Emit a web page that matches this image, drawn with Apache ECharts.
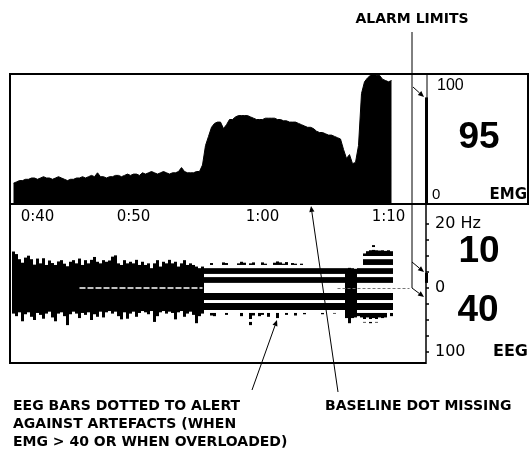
<!DOCTYPE html>
<html>
<head>
<meta charset="utf-8">
<script src="https://cdn.jsdelivr.net/npm/echarts@6/dist/echarts.min.js"></script>
<style>
  html, body { margin: 0; padding: 0; background: #fff; }
  #chart { width: 531px; height: 455px; }
</style>
</head>
<body>
<div id="chart"></div>
<script>
// EMG trend (0-100), one value per display column
const emg = [16,17,18,18,19,19, 20,20,19,20,21,20,20,19,20,21,20,19, 18,19,19,20,20,21,20,21,22,21,24,
  21,21,20,21,21,22,22,21,22,23, 22,23,23,22,24,23,24,25,24,23,24,25,24,23,24, 24,25,28,25,24,24,24,25,25, 30,
  45,52,59,62,63,63,58,61,65,65,67,68,68,68,68,67,66,65,65,
  65,66,66,66,66,65,65,64,64,63,63,63,62,61,60,59,59,58,56,55,55,54,53,53,52,51,50,
  42,35,38,31,32,45,85,94,97,99,100,99,99,96,95,94,95];

// EEG frequency (Hz, drawn above the baseline)
const eegFreq = [11.4,10.6,9.0,7.9,9.5,10.1,9.0,7.3,9.2,7.7, 9.3,7.2,8.6,7.8,7.2,8.3,8.7,7.6,6.8,8.2,
  8.7,7.7,9.2,7.2,8.7,7.7,8.8,9.7,8.2,7.7, 8.7,8.2,8.6,9.8,10.2,7.7,7.2,8.7,7.7,8.2,
  7.7,8.8,7.2,8.2,7.2,7.7,6.2,7.7,8.7,6.7, 8.2,7.7,8.8,7.7,8.2,6.7,7.7,8.7,7.2,7.7, 7.2,6.7,6.2,6.7,
  6.8,7.0,7.8,6.6,6.8,6.9,8.0,7.8,6.7,6.9, 7.0,7.7,8.2,7.9,6.8,7.7,8.0,6.9,7.0,8.0,
  7.6,6.8,6.9,7.9,8.3,8.0,7.6,8.1,7.0,7.8, 7.6,6.9,7.6,
  6.6,6.8,6.5,6.9,6.7,6.6,6.8,6.5,6.7,6.9,6.6,6.7,6.8,6.5,
  6.2,6.3,6.2,6.0,
  6.6,7.0,10.8,11.5,11.8,13.4,11.8,11.7,11.8,11.6,11.8,11.5];

// EEG amplitude (drawn below the baseline, 0-100)
const eegAmp = [40,44,38,52,41,38,45,50,39,42, 48,40,37,46,52,40,38,44,58,41,
  37,40,47,39,42,38,50,41,45,37, 46,38,36,40,37,44,49,38,48,40,
  37,45,39,36,38,41,36,53,44,38, 36,40,37,39,49,38,36,45,40,37, 42,55,44,40,
  38,37,43,44,36,37,36,42,37,36, 38,36,44,37,36,58,43,37,44,42,
  36,45,37,36,47,36,37,42,36,37, 43,36,37,41,36,35,37,36,35,41, 36,37,35,40,36,37,36,
  47,55,47,46,
  44,46,54,46,55,47,54,46,47,46,36,44];

const columnCount = 133;
const timeLabelCols = [8, 40, 83, 125];
const timeLabels = ['0:40', '0:50', '1:00', '1:10'];

const emgAlertLevel = 40;          // above this the EEG bars are dotted
const emgAlarmLimit = 82;
const freqAlarmBand = [1.6, 4.7];
const freqNow = 10;
const ampNow = 40;

// dot-matrix rows used when the EEG bars are dotted
const freqRows = [[1.6, 3.4], [4.4, 6.2], [7.2, 9.0], [10.0, 11.9], [12.8, 14.7]];
const ampRows = [[7.8, 18.8], [23.4, 34.4], [39, 48.4], [53, 62.5]];

const ink = '#000';
const sans = "'DejaVu Sans', sans-serif";
const helv = "'Liberation Sans', Arial, sans-serif";

const categories = Array.from({ length: columnCount }, (_, i) => String(i));
const timeMap = {};
timeLabelCols.forEach((c, k) => { timeMap[c] = timeLabels[k]; });

function eegRender(rows) {
  return function (params, api) {
    const i = api.value(0), v = api.value(1), e = api.value(2);
    const w = api.size([1, 0])[0];
    const x = api.coord([i, 0])[0] - w / 2;
    const rect = (a, b) => {
      const p = api.coord([i, a]), q = api.coord([i, b]);
      return { type: 'rect', shape: { x: x, y: Math.min(p[1], q[1]), width: w, height: Math.abs(q[1] - p[1]) },
               style: { fill: ink } };
    };
    const children = [];
    if (e <= emgAlertLevel) {
      children.push(rect(0, v));
    } else {
      rows.forEach(([lo, hi]) => { if (v > lo) children.push(rect(lo, Math.min(hi, v))); });
    }
    return { type: 'group', children: children };
  };
}

function seg(x1, y1, x2, y2, w) {
  return { type: 'line', silent: true, shape: { x1, y1, x2, y2 }, style: { stroke: ink, lineWidth: w || 1 } };
}
function arrow(x1, y1, x2, y2, w) {
  const a = Math.atan2(y2 - y1, x2 - x1), L = 6, H = 2.6;
  const bx = x2 - L * Math.cos(a), by = y2 - L * Math.sin(a);
  const px = -Math.sin(a) * H, py = Math.cos(a) * H;
  return [seg(x1, y1, bx, by, w),
    { type: 'polygon', silent: true, shape: { points: [[x2, y2], [bx + px, by + py], [bx - px, by - py]] }, style: { fill: ink } }];
}
function txt(text, x, y, size, weight, align, family) {
  return { type: 'text', silent: true, x: x, y: y,
    style: { text: text, fill: ink, fontSize: size, fontWeight: weight || 'normal', fontFamily: family || sans,
             align: align || 'left', verticalAlign: 'middle' } };
}

const hiddenCat = (gi) => ({ type: 'category', gridIndex: gi, data: categories, boundaryGap: true, show: false });

const chart = echarts.init(document.getElementById('chart'));
chart.setOption({
  animation: false,
  backgroundColor: '#fff',
  grid: [
    { left: 12, top: 74, width: 399, height: 130 },   // EMG trend
    { left: 12, top: 224, width: 399, height: 64 },   // EEG frequency
    { left: 12, top: 288, width: 399, height: 64 },   // EEG amplitude
    { left: 425, top: 74, width: 3, height: 130 },    // EMG alarm scale
    { left: 425, top: 224, width: 3, height: 64 }     // EEG alarm scale
  ],
  xAxis: [
    { type: 'category', gridIndex: 0, data: categories, boundaryGap: true,
      axisLine: { show: false }, axisTick: { show: false },
      axisLabel: { interval: 0, margin: 6, color: ink, fontFamily: sans, fontSize: 15,
        formatter: (val, idx) => timeMap[idx] || '' } },
    hiddenCat(1), hiddenCat(2),
    { type: 'category', gridIndex: 3, data: ['EMG'], show: false },
    { type: 'category', gridIndex: 4, data: ['EEG'], show: false }
  ],
  yAxis: [
    { type: 'value', gridIndex: 0, min: 0, max: 100, show: false },
    { type: 'value', gridIndex: 1, min: 0, max: 20, interval: 5, position: 'right', offset: 15,
      splitLine: { show: false }, axisLine: { show: false },
      axisTick: { show: true, length: 3, lineStyle: { color: ink, width: 1.5 } },
      axisLabel: { margin: 9, color: ink, fontFamily: sans, fontSize: 16, showMinLabel: true, showMaxLabel: true,
        formatter: v => (v === 20 ? '20 Hz' : v === 0 ? '0' : '') } },
    { type: 'value', gridIndex: 2, min: 0, max: 100, interval: 25, inverse: true, position: 'right', offset: 15,
      splitLine: { show: false }, axisLine: { show: false },
      axisTick: { show: true, length: 3, lineStyle: { color: ink, width: 1.5 } },
      axisLabel: { margin: 9, color: ink, fontFamily: sans, fontSize: 16, showMinLabel: true, showMaxLabel: true,
        formatter: v => (v === 100 ? '100' : '') } },
    { type: 'value', gridIndex: 3, min: 0, max: 100, show: false },
    { type: 'value', gridIndex: 4, min: 0, max: 20, show: false }
  ],
  series: [
    { name: 'EMG', type: 'line', xAxisIndex: 0, yAxisIndex: 0, data: emg, symbol: 'none',
      lineStyle: { color: ink, width: 1 }, areaStyle: { color: ink, opacity: 1 } },
    { name: 'EEG frequency', type: 'custom', xAxisIndex: 1, yAxisIndex: 1,
      data: eegFreq.map((v, i) => [i, v, emg[i]]), encode: { x: 0, y: 1 },
      renderItem: eegRender(freqRows) },
    { name: 'EEG amplitude', type: 'custom', xAxisIndex: 2, yAxisIndex: 2,
      data: eegAmp.map((v, i) => [i, v, emg[i]]), encode: { x: 0, y: 1 },
      renderItem: eegRender(ampRows),
      markLine: { silent: true, symbol: 'none', label: { show: false },
        data: [
          [{ coord: [22, 0], lineStyle: { color: '#fff', width: 1.5, type: [6, 2] } }, { coord: [63, 0] }],
          [{ coord: [108, 0], lineStyle: { color: '#777', width: 1, type: [3, 2] } }, { coord: [132, 0] }]
        ] } },
    { name: 'EMG alarm', type: 'bar', xAxisIndex: 3, yAxisIndex: 3, data: [emgAlarmLimit],
      barWidth: 3, itemStyle: { color: ink } },
    { name: 'band base', type: 'bar', stack: 'band', xAxisIndex: 4, yAxisIndex: 4,
      data: [freqAlarmBand[0]], barWidth: 3, itemStyle: { color: 'rgba(0,0,0,0)' } },
    { name: 'EEG alarm', type: 'bar', stack: 'band', xAxisIndex: 4, yAxisIndex: 4,
      data: [freqAlarmBand[1] - freqAlarmBand[0]], barWidth: 3, itemStyle: { color: ink } }
  ],
  graphic: [].concat(
    // panel frames
    seg(10, 74, 528, 74, 2), seg(10, 204, 528, 204, 2), seg(10, 73, 10, 364, 2), seg(10, 363, 426, 363, 2),
    seg(427, 74, 427, 204, 1), seg(528, 73, 528, 205, 2), seg(426, 204, 426, 364, 1.5),
    // alarm limits bracket
    seg(412, 32, 412, 288, 1),
    arrow(413, 87, 424, 97, 1), arrow(412, 262, 424, 272, 1), arrow(412, 288, 424, 297, 1),
    // callouts
    arrow(338, 392, 311, 206, 1), arrow(252, 390, 277, 320, 1),
    [
      txt('ALARM LIMITS', 412, 19, 14, 'bold', 'center'),
      txt('100', 437, 86, 16, 'normal', 'left', helv),
      txt(String(emg[emg.length - 1]), 479, 138, 37, 'bold', 'center', helv),
      txt('0', 432, 195, 15, 'normal', 'left', helv),
      txt('EMG', 527, 195, 15, 'bold', 'right'),
      txt(String(freqNow), 479, 252, 37, 'bold', 'center', helv),
      txt(String(ampNow), 478, 311, 37, 'bold', 'center', helv),
      txt('EEG', 528, 352, 16, 'bold', 'right'),
      txt('EEG BARS DOTTED TO ALERT', 13, 406, 14, 'bold'),
      txt('AGAINST ARTEFACTS (WHEN', 13, 424, 14, 'bold'),
      txt('EMG > 40 OR WHEN OVERLOADED)', 13, 442, 14, 'bold'),
      txt('BASELINE DOT MISSING', 325, 406, 14, 'bold')
    ]
  )
});
</script>
</body>
</html>
